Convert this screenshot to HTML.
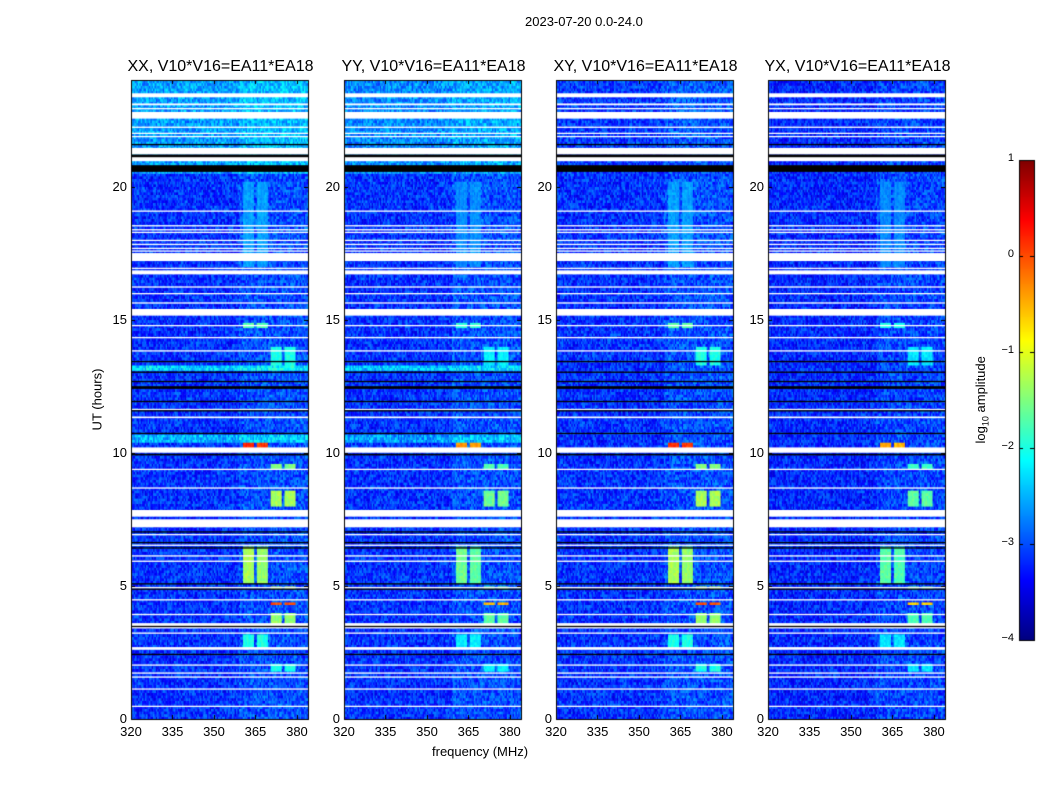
<!DOCTYPE html>
<html><head><meta charset="utf-8">
<style>
body{margin:0;background:#fff;font-family:"Liberation Sans",sans-serif;}
#wrap{position:relative;width:1050px;height:800px;overflow:hidden;background:#fff}
canvas{position:absolute;left:0;top:0}
.t{position:absolute;font-size:13px;color:#000;white-space:nowrap}
</style></head><body>
<div id="wrap">
<canvas id="cv" width="1050" height="800"></canvas>
<div class="t" style="left:525px;top:14px">2023-07-20 0.0-24.0</div>
<div class="t" style="left:432px;top:744px">frequency (MHz)</div>
<div class="t" style="left:66px;top:392px;transform:rotate(-90deg)">UT (hours)</div>
<div class="t" style="left:938px;top:391px;transform:rotate(-90deg)">log<sub style="font-size:9px">10</sub> amplitude</div>
</div>
<script>
// ---- data ----
const panelTitles=["XX, V10*V16=EA11*EA18","YY, V10*V16=EA11*EA18","XY, V10*V16=EA11*EA18","YX, V10*V16=EA11*EA18"];
const xTicks=[320,335,350,365,380];
const yTicks=[0,5,10,15,20];
const cbTicks=[1,0,-1,-2,-3,-4];
// background log amplitude per time band [startHour,endHour,level] per panel
const bgXX=[[0,20.5,-3.15],[20.5,24,-2.6],[13.1,13.3,-2.3],[10.4,10.7,-2.5]];
const bgYY=[[0,20.5,-3.15],[20.5,24,-2.7],[13.1,13.3,-2.4],[10.4,10.7,-2.6]];
const bgXY=[[0,20.5,-3.15],[20.5,24,-3.1]];
const bgYX=[[0,20.5,-3.2],[20.5,24,-3.2]];
// RFI blocks [tStart,tEnd,fStart,fEnd,level]
const rfiXX=[[17,20.2,360.5,364.5,-2.6],[17,20.2,365.5,369.5,-2.6],[14.7,14.9,360.5,364.5,-1.7],[14.7,14.9,365.5,369.5,-1.7],[10.1,10.4,360.5,364.5,0.2],[10.1,10.4,365.5,369.5,0.1],[5.1,6.5,360.5,364.5,-1.3],[5.1,6.5,365.5,369.5,-1.4],[2.7,3.2,360.5,364.5,-2.0],[2.7,3.2,365.5,369.5,-2.0],[13.3,14.0,370.5,374.5,-2.0],[13.3,14.0,375.5,379.5,-2.0],[9.4,9.6,370.5,374.5,-1.5],[9.4,9.6,375.5,379.5,-1.5],[8.0,8.6,370.5,374.5,-1.3],[8.0,8.6,375.5,379.5,-1.3],[4.95,5.05,370.5,374.5,-1.2],[4.95,5.05,375.5,379.5,-1.2],[4.3,4.45,370.5,374.5,0.0],[4.3,4.45,375.5,379.5,0.0],[3.5,4.0,370.5,374.5,-1.4],[3.5,4.0,375.5,379.5,-1.4],[1.8,2.1,370.5,374.5,-2.0],[1.8,2.1,375.5,379.5,-2.0]];
const panelScale=[1.0,0.85,1.0,0.8];
// flagged (white) and zero (black) bands in hours [start,end]
const whiteBands=[[23.35,23.5],[23.05,23.12],[22.9,22.95],[22.55,22.8],[22.2,22.25],[21.98,22.02],[21.85,21.9],[21.2,21.45],[20.95,21.12],[19.05,19.1],[18.5,18.55],[18.35,18.4],[18.25,18.3],[17.95,18.0],[17.8,17.85],[17.65,17.7],[17.55,17.6],[17.4,17.45],[17.2,17.5],[16.9,16.95],[16.7,16.85],[16.2,16.25],[15.95,16.0],[15.6,15.65],[15.15,15.4],[14.75,14.8],[14.3,14.35],[13.8,13.85],[11.6,11.65],[11.3,11.36],[10.0,10.2],[9.35,9.4],[8.65,8.7],[7.6,7.85],[7.2,7.5],[6.9,6.95],[6.5,6.55],[6.1,6.15],[5.9,5.95],[4.9,4.96],[4.45,4.5],[3.9,3.95],[3.4,3.6],[3.2,3.25],[2.6,2.7],[2.0,2.05],[1.7,1.75],[1.55,1.6],[1.1,1.15],[0.45,0.5]];
const blackBands=[[21.55,21.6],[21.1,21.2],[20.55,20.8],[13.4,13.45],[13.0,13.05],[12.65,12.7],[12.4,12.5],[11.9,11.95],[11.55,11.6],[10.7,10.75],[9.9,9.96],[7.0,7.05],[6.6,6.65],[6.4,6.45],[5.05,5.1],[4.85,4.9],[3.45,3.5],[2.4,2.45]];
// ---- layout ----
const L=[131,344,556,768],W=177,T=80,H=639,F0=320,F1=384,TMAX=24;
const xs=(p,f)=>L[p]+(f-F0)/(F1-F0)*W;
const ys=h=>T+H-h/TMAX*H;
function jet(v){let t=Math.max(0,Math.min(1,(v+4)/5));
 const c=x=>Math.max(0,Math.min(1,1.5-Math.abs(4*t-x)));
 return [c(3)*255|0,c(2)*255|0,c(1)*255|0];}
function hash(a,b,c){let h=(a*374761393+b*668265263+c*2147483647)|0;h=(h^(h>>>13))*1274126177|0;return ((h^(h>>>16))>>>0)/4294967296;}
const bgs=[bgXX,bgYY,bgXY,bgYX];
const cv=document.getElementById('cv'),ctx=cv.getContext('2d');
const dt=0.1,df=0.5;
for(let p=0;p<4;p++){
 for(let i=0;i<TMAX/dt;i++){const h=i*dt+dt/2;
  let base=-3.2;for(const b of bgs[p]) if(h>=b[0]&&h<b[1]) base=b[2];
  for(let j=0;j<(F1-F0)/df;j++){const f=F0+j*df+df/2;
   let v=base+(hash(i,j,p)-0.5)*0.8;
   if(f>359) v+=0.15;
   for(const r of rfiXX) if(h>=r[0]&&h<r[1]&&f>=r[2]&&f<r[3]){const lv=-3.2+(r[4]+3.2)*panelScale[p];v=Math.max(v,lv+(hash(j,i,p+7)-0.5)*0.3);}
   const c=jet(v);ctx.fillStyle=`rgb(${c[0]},${c[1]},${c[2]})`;
   const x0=xs(p,f-df/2),x1=xs(p,f+df/2),y0=ys(h+dt/2),y1=ys(h-dt/2);
   ctx.fillRect(x0,y0,x1-x0+0.5,y1-y0+0.5);
  }}
 ctx.fillStyle='#fff';for(const b of whiteBands){const y0=ys(b[1]),y1=ys(b[0]);ctx.fillRect(L[p],y0,W,Math.max(1.3,y1-y0));}
 ctx.fillStyle='#000';for(const b of blackBands){const y0=ys(b[1]),y1=ys(b[0]);ctx.fillRect(L[p],y0,W,Math.max(1,y1-y0));}
 ctx.fillStyle='#fff';ctx.fillRect(L[p]+W,T,2,H);
 ctx.strokeStyle='#000';ctx.lineWidth=1;ctx.strokeRect(L[p]+0.5,T+0.5,W,H);
 ctx.beginPath();
 for(const f of xTicks){const x=Math.round(xs(p,f))+0.5;ctx.moveTo(x,T+H);ctx.lineTo(x,T+H-4);ctx.moveTo(x,T);ctx.lineTo(x,T+4);}
 for(const h of yTicks){const y=Math.round(ys(h))+0.5;ctx.moveTo(L[p],y);ctx.lineTo(L[p]+4,y);ctx.moveTo(L[p]+W,y);ctx.lineTo(L[p]+W-4,y);}
 ctx.stroke();
}
const wrap=document.getElementById('wrap');
function lab(txt,x,y,name,align,size){const d=document.createElement('div');d.className='t';d.textContent=txt;
 d.style.left=x+'px';d.style.top=y+'px';if(size)d.style.fontSize=size+'px';
 if(align==='c')d.style.transform='translateX(-50%)';if(align==='r')d.style.transform='translateX(-100%)';
 
 
 wrap.appendChild(d);}
for(let p=0;p<4;p++){
 lab(panelTitles[p],L[p]+W/2+1,58,'panel-title','c',16);
 for(const f of xTicks) lab(String(f),xs(p,f),724,'x-tick-label','c');
 for(const h of yTicks) lab(String(h),L[p]-4,ys(h)-8,'y-tick-label','r');
}
// colorbar
const cbx=1019,cbw=15,cbt=160,cbh=480;
for(let k=0;k<cbh;k++){const v=1-k/cbh*5;const c=jet(v);ctx.fillStyle=`rgb(${c[0]},${c[1]},${c[2]})`;ctx.fillRect(cbx,cbt+k,cbw,1);}
ctx.strokeStyle='#000';ctx.strokeRect(cbx+0.5,cbt+0.5,cbw,cbh);
ctx.beginPath();for(const v of cbTicks){const y=Math.round(cbt+(1-v)/5*cbh)+0.5;ctx.moveTo(cbx,y);ctx.lineTo(cbx+4,y);ctx.moveTo(cbx+cbw,y);ctx.lineTo(cbx+cbw-4,y);}ctx.stroke();
for(const v of cbTicks) lab(v<0?'\u2212'+(-v):String(v),1014,cbt+(1-v)/5*cbh-8,'colorbar-tick-label','r',11);
</script>
</body></html>
